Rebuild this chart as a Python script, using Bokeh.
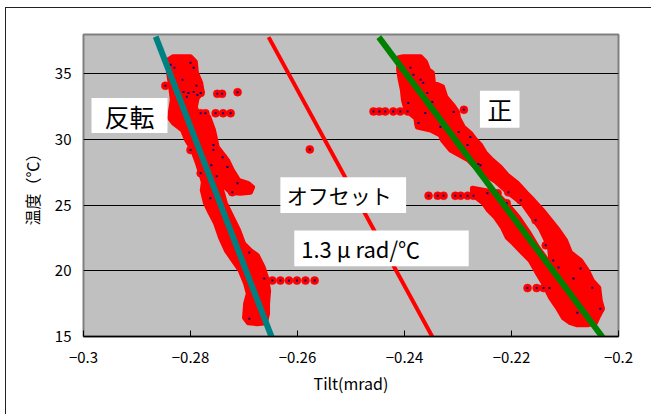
from bokeh.plotting import figure
from bokeh.models import Range1d, FixedTicker, BoxAnnotation, Label
from bokeh.embed import file_html
from bokeh.resources import INLINE

# ---------------- data ----------------
x_ticks = [-0.3, -0.28, -0.26, -0.24, -0.22, -0.2]
x_tick_labels = ["−0.3", "−0.28", "−0.26", "−0.24", "−0.22", "−0.2"]
y_ticks = [15, 20, 25, 30, 35]

# dense part of the "反転" (reverse) cloud: outline of the dense region
rev_cloud_tilt = [-0.2832, -0.2800, -0.2791, -0.2789, -0.2781, -0.2778, -0.2787, -0.2791, -0.2787,
                  -0.2766, -0.2759, -0.2757, -0.2750, -0.2731, -0.2722, -0.2710, -0.2693, -0.2684,
                  -0.2688, -0.2707, -0.2725, -0.2735, -0.2748, -0.2740, -0.2735, -0.2722, -0.2710,
                  -0.2701, -0.2688, -0.2675, -0.2664, -0.2658, -0.2654, -0.2656, -0.2656, -0.2660,
                  -0.2675, -0.2692, -0.2699, -0.2697, -0.2692, -0.2697, -0.2707, -0.2720, -0.2733,
                  -0.2744, -0.2753, -0.2763, -0.2772, -0.2778, -0.2776, -0.2781, -0.2787, -0.2796,
                  -0.2807, -0.2815, -0.2832, -0.2839, -0.2837, -0.2834, -0.2837, -0.2841, -0.2841]
rev_cloud_temp = [36.31, 36.31, 35.93, 35.09, 34.32, 33.63, 33.25, 32.48, 32.03,
                  31.72, 30.95, 30.72, 29.43, 28.43, 27.67, 26.90, 26.67, 26.37,
                  25.99, 25.91, 25.99, 26.37, 26.90, 25.91, 25.15, 24.08, 23.08,
                  22.09, 21.55, 21.17, 20.26, 19.49, 18.49, 17.50, 16.74, 16.05,
                  15.97, 16.05, 16.43, 17.50, 18.27, 19.03, 20.03, 20.79, 21.55,
                  22.55, 23.62, 24.39, 25.15, 26.14, 26.75, 27.44, 28.20, 29.20,
                  29.95, 30.72, 31.26, 31.64, 32.26, 33.01, 34.01, 35.09, 36.08]

# dense part of the "正" (normal) cloud
pos_cloud_tilt = [-0.2411, -0.2402, -0.2370, -0.2361, -0.2355, -0.2348, -0.2346, -0.2329, -0.2323,
                  -0.2310, -0.2301, -0.2299, -0.2290, -0.2277, -0.2267, -0.2258, -0.2249, -0.2236,
                  -0.2221, -0.2208, -0.2189, -0.2172, -0.2159, -0.2142, -0.2127, -0.2112, -0.2099,
                  -0.2090, -0.2071, -0.2058, -0.2049, -0.2037, -0.2034, -0.2030, -0.2037, -0.2043,
                  -0.2058, -0.2077, -0.2090, -0.2103, -0.2114, -0.2127, -0.2140, -0.2151, -0.2165,
                  -0.2178, -0.2196, -0.2208, -0.2217, -0.2230, -0.2243, -0.2252, -0.2264, -0.2273,
                  -0.2273, -0.2243, -0.2221, -0.2206, -0.2187, -0.2168, -0.2151, -0.2125, -0.2129,
                  -0.2146, -0.2178, -0.2202, -0.2230, -0.2262, -0.2280, -0.2314, -0.2329, -0.2333,
                  -0.2351, -0.2376, -0.2379, -0.2393, -0.2398, -0.2402, -0.2404, -0.2408, -0.2411,
                  -0.2411]
pos_cloud_temp = [36.23, 36.31, 36.31, 35.93, 35.31, 35.09, 34.32, 34.01, 33.25,
                  32.63, 32.10, 31.64, 30.95, 30.49, 29.96, 29.58, 28.97, 28.43,
                  27.90, 27.29, 26.67, 25.91, 25.37, 24.61, 23.85, 23.08, 22.32,
                  21.40, 20.79, 20.02, 19.26, 18.72, 17.73, 17.12, 16.58, 16.05,
                  15.89, 15.89, 16.05, 16.43, 17.19, 17.96, 19.03, 19.79, 20.79,
                  21.32, 22.09, 22.55, 23.31, 24.08, 24.61, 25.15, 25.53, 25.91,
                  26.29, 26.06, 25.60, 24.99, 24.08, 22.93, 21.78, 20.33, 21.78,
                  23.23, 25.07, 25.83, 26.83, 27.67, 28.43, 29.20, 29.96, 30.34,
                  30.72, 30.95, 31.64, 32.10, 32.40, 33.01, 33.78, 34.55, 35.31,
                  36.08]

# individually visible samples (red marker with navy centre)
rev_pts_tilt = [-0.2847, -0.2750, -0.2741, -0.2712,
                -0.2781, -0.2772, -0.2753, -0.2739, -0.2725,
                -0.2647, -0.2632, -0.2616, -0.2601, -0.2585, -0.2568,
                -0.2577,
                -0.2837, -0.2830, -0.2800, -0.2794, -0.2815, -0.2789, -0.2813, -0.2804, -0.2794,
                -0.2787, -0.2781, -0.2807, -0.2757, -0.2757, -0.2800, -0.2740, -0.2731, -0.2781,
                -0.2751, -0.2712, -0.2722, -0.2763, -0.2690, -0.2662, -0.2690, -0.2761]
rev_pts_temp = [34.09, 33.48, 33.48, 33.61,
                32.00, 32.00, 32.00, 32.00, 32.00,
                19.26, 19.26, 19.26, 19.26, 19.26, 19.26,
                29.25,
                35.70, 35.47, 35.85, 35.47, 34.55, 34.09, 33.63, 33.55, 33.63,
                33.40, 33.55, 33.25, 29.58, 29.20, 29.20, 28.66, 27.90, 27.44,
                27.21, 26.67, 25.99, 25.53, 21.40, 19.41, 16.36, 28.05]

pos_pts_tilt = [-0.2289,
                -0.2458, -0.2447, -0.2436, -0.2421, -0.2408, -0.2394,
                -0.2355, -0.2338, -0.2327, -0.2305, -0.2295, -0.2282, -0.2271,
                -0.2170, -0.2153, -0.2140, -0.2129,
                -0.2389, -0.2383, -0.2370, -0.2365, -0.2357, -0.2348, -0.2338, -0.2393, -0.2374,
                -0.2361, -0.2333, -0.2308, -0.2299, -0.2277, -0.2282, -0.2258, -0.2262, -0.2206,
                -0.2183, -0.2155, -0.2136, -0.2122, -0.2071, -0.2084, -0.2049, -0.2034, -0.2077,
                -0.2112, -0.2209, -0.2245, -0.2226]
pos_pts_temp = [32.26,
                32.14, 32.14, 32.14, 32.14, 32.14, 32.14,
                25.72, 25.72, 25.72, 25.72, 25.72, 25.72, 25.72,
                18.69, 18.69, 18.69, 18.69,
                35.47, 34.93, 34.55, 34.32, 33.55, 32.86, 32.03, 32.79, 31.26,
                32.03, 30.95, 32.10, 30.57, 30.19, 29.58, 28.05, 28.13, 25.99,
                25.37, 23.85, 21.94, 20.79, 20.18, 19.41, 18.72, 17.12, 16.81,
                20.25, 25.15, 25.91, 25.91]

# fitted / reference lines
rev_fit_tilt = [-0.2865, -0.2647]
rev_fit_temp = [37.84, 14.82]
offset_tilt = [-0.2654, -0.2348]
offset_temp = [37.80, 14.98]
pos_fit_tilt = [-0.2448, -0.2021]
pos_fit_temp = [37.80, 14.46]

# ---------------- figure ----------------
p = figure(width=651, height=414, output_backend="svg", toolbar_location=None,
           x_range=Range1d(-0.3, -0.2), y_range=Range1d(15, 38),
           min_border_left=83, min_border_right=33, min_border_top=34, min_border_bottom=78)
p.border_fill_color = None
p.styles = {"background": "linear-gradient(#222,#222) 5px 7px / 1px 2000px no-repeat, "
                          "linear-gradient(#222,#222) 5px 7px / 2000px 1px no-repeat, #ffffff"}
p.background_fill_color = "#C0C0C0"
p.outline_line_color = "#808080"
p.outline_line_width = 2

font = "Noto Sans CJK JP"

p.xaxis.ticker = FixedTicker(ticks=x_ticks)
p.xaxis.major_label_overrides = dict(zip(x_ticks, x_tick_labels))
p.xaxis.major_tick_in = 6
p.xaxis.major_tick_out = 0
p.xaxis.minor_tick_line_color = None
p.xaxis.axis_line_color = "black"
p.xaxis.axis_line_width = 1.5
p.xaxis.major_tick_line_color = "black"
p.xaxis.major_label_standoff = 15
p.xaxis.axis_label = "Tilt(mrad)"
p.xaxis.axis_label_standoff = 5

p.yaxis.ticker = FixedTicker(ticks=y_ticks)
p.yaxis.major_tick_in = 0
p.yaxis.major_tick_out = 0
p.yaxis.minor_tick_line_color = None
p.yaxis.axis_line_color = None
p.yaxis.major_label_standoff = 12
p.yaxis.axis_label = "温度（℃）"
p.yaxis.axis_label_standoff = 8

for ax in (p.xaxis, p.yaxis):
    ax.major_label_text_font = font
    ax.major_label_text_font_size = "15px"
    ax.major_label_text_color = "black"
    ax.axis_label_text_font = font
    ax.axis_label_text_font_style = "normal"
    ax.axis_label_text_color = "black"
p.xaxis.axis_label_text_font_size = "16px"
p.yaxis.axis_label_text_font_size = "16px"

p.xgrid.grid_line_color = None
p.ygrid.ticker = FixedTicker(ticks=y_ticks)
p.ygrid.grid_line_color = "black"
p.ygrid.grid_line_width = 1

# clouds
for tx, ty in ((rev_cloud_tilt, rev_cloud_temp), (pos_cloud_tilt, pos_cloud_temp)):
    p.patch(tx, ty, fill_color="#FF0000", line_color="#FF0000", line_width=5, line_join="round")
for tx, ty in ((rev_pts_tilt, rev_pts_temp), (pos_pts_tilt, pos_pts_temp)):
    p.scatter(tx, ty, marker="circle", size=8, fill_color="#FF0000", line_color="#FF0000", line_width=0.5)
for tx, ty in ((rev_pts_tilt, rev_pts_temp), (pos_pts_tilt, pos_pts_temp)):
    p.scatter(tx, ty, marker="square", size=2, fill_color="#000080", line_color=None)

# lines
p.line(offset_tilt, offset_temp, line_color="#FF0000", line_width=4)
p.line(rev_fit_tilt, rev_fit_temp, line_color="#008080", line_width=6)
p.line(pos_fit_tilt, pos_fit_temp, line_color="#008000", line_width=6)

# white text boxes
boxes = [(-0.2985, -0.2843, 30.50, 33.17),
         (-0.2259, -0.2185, 30.90, 33.71),
         (-0.2632, -0.2397, 24.40, 27.13),
         (-0.2606, -0.2280, 20.35, 23.08)]
for l, r, b, t in boxes:
    p.add_layout(BoxAnnotation(left=l, right=r, bottom=b, top=t,
                               fill_color="white", fill_alpha=1, line_color=None))

labels = [("反転", -0.2914, 31.83, "center", "25px"),
          ("正", -0.2222, 32.31, "center", "25px"),
          ("オフセット", -0.2620, 25.77, "left", "21px"),
          ("1.3 μ rad/℃", -0.2593, 21.72, "left", "22px")]
for txt, x, y, al, fs in labels:
    p.add_layout(Label(x=x, y=y, text=txt, text_align=al, text_baseline="middle",
                       text_font=font, text_font_size=fs, text_color="black"))

open("out.html", "w").write(file_html(p, INLINE))
